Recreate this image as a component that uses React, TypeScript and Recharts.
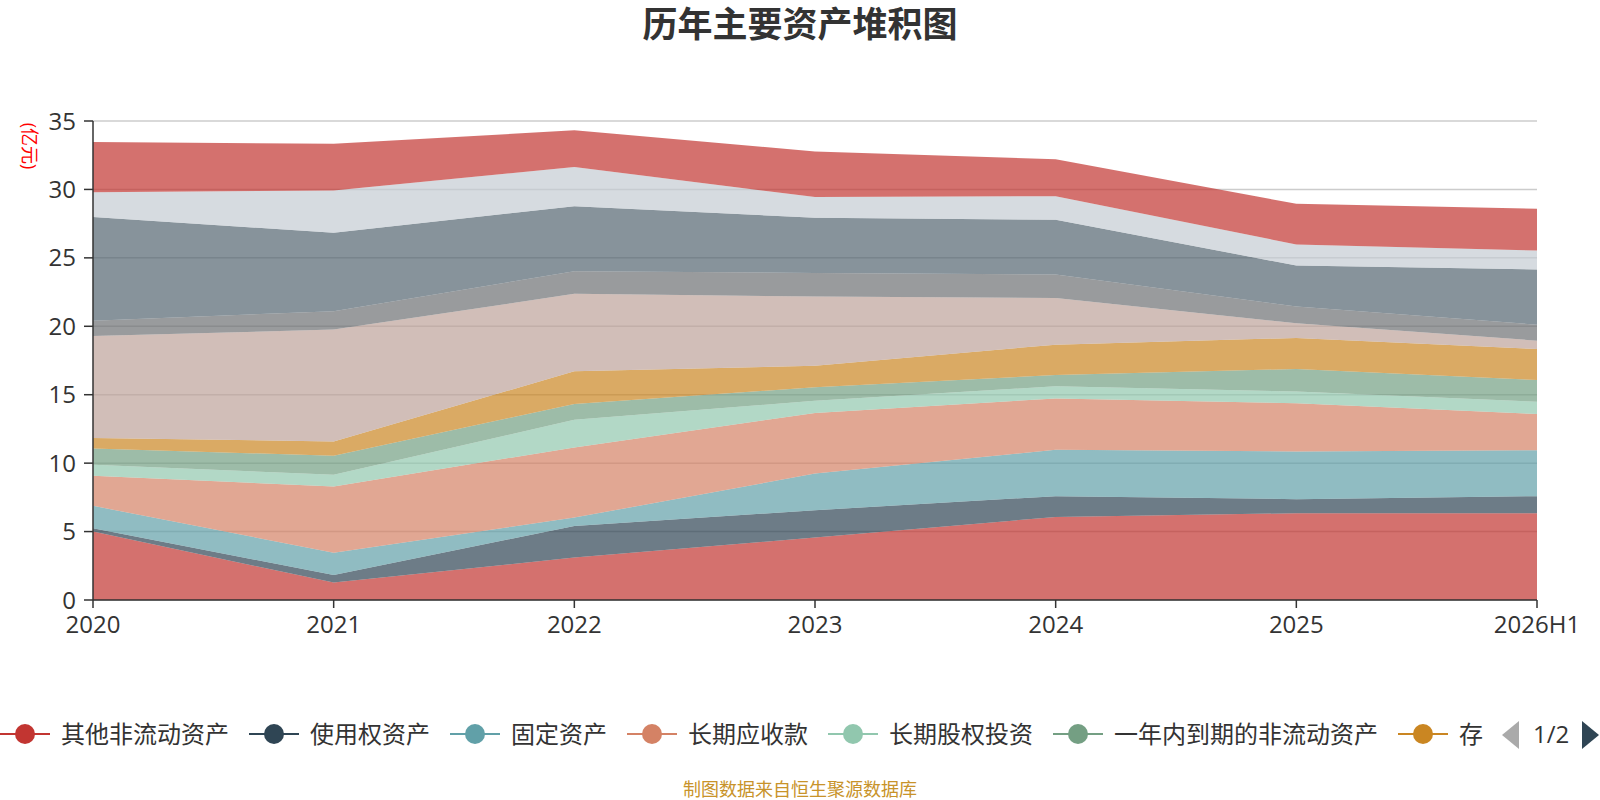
import { Area, AreaChart, CartesianGrid, XAxis, YAxis } from "recharts";

const years = ["2020", "2021", "2022", "2023", "2024", "2025", "2026H1"];

// 亿元, bottom of the stack first
const qitaFeiliudong = [5.0, 1.27, 3.1, 4.56, 6.07, 6.34, 6.34];
const shiyongquan = [0.24, 0.56, 2.31, 2.0, 1.52, 1.03, 1.25];
const gudingZichan = [1.64, 1.63, 0.61, 2.68, 3.39, 3.48, 3.36];
const changqiYingshou = [2.19, 4.83, 5.13, 4.42, 3.75, 3.52, 2.64];
const changqiGuquan = [0.81, 0.86, 2.02, 0.9, 0.88, 0.87, 0.9];
const yinianDaoqi = [1.19, 1.39, 1.15, 0.98, 0.83, 1.64, 1.58];
const cunhuo = [0.76, 1.05, 2.39, 1.58, 2.22, 2.27, 2.27];
const hetongZichan = [7.46, 8.17, 5.66, 5.05, 3.41, 1.07, 0.61];
const qitaYingshou = [1.12, 1.34, 1.65, 1.73, 1.71, 1.22, 1.17];
const yingshouZhangkuan = [7.57, 5.73, 4.76, 4.03, 4.0, 3.0, 4.03];
const yufuKuanxiang = [1.82, 3.1, 2.85, 1.51, 1.73, 1.54, 1.39];
const huobiZijin = [3.66, 3.41, 2.69, 3.34, 2.69, 2.97, 3.05];

const yTicks = [0, 5, 10, 15, 20, 25, 30, 35];

const series = [
  { key: "qita", name: "其他非流动资产", values: qitaFeiliudong, color: "#c23531" },
  { key: "shiyong", name: "使用权资产", values: shiyongquan, color: "#2f4554" },
  { key: "guding", name: "固定资产", values: gudingZichan, color: "#61a0a8" },
  { key: "yingshou", name: "长期应收款", values: changqiYingshou, color: "#d48265" },
  { key: "guquan", name: "长期股权投资", values: changqiGuquan, color: "#91c7ae" },
  { key: "daoqi", name: "一年内到期的非流动资产", values: yinianDaoqi, color: "#749f83" },
  { key: "cunhuo", name: "存货", values: cunhuo, color: "#ca8622" },
  { key: "hetong", name: "合同资产", values: hetongZichan, color: "#bda29a" },
  { key: "qitays", name: "其他应收款", values: qitaYingshou, color: "#6e7074" },
  { key: "zhangkuan", name: "应收账款", values: yingshouZhangkuan, color: "#546570" },
  { key: "yufu", name: "预付款项", values: yufuKuanxiang, color: "#c4ccd3" },
  { key: "huobi", name: "货币资金", values: huobiZijin, color: "#c23531" },
];

const data = years.map((year, i) => {
  const row: Record<string, string | number> = { year };
  series.forEach((s) => {
    row[s.key] = s.values[i];
  });
  return row;
});

const font = "'Open Sans', 'Noto Sans CJK SC', sans-serif";

// page 1 of the legend; the last entry is cut by the pager, only "存" shows
const legendItems = series.slice(0, 7).map((s, i) => ({
  ...s,
  label: i === 6 ? s.name.slice(0, 1) : s.name,
}));

function LegendIcon({ color }: { color: string }) {
  return (
    <svg width={50} height={24} style={{ display: "block", flexShrink: 0 }}>
      <line x1={0} y1={12} x2={50} y2={12} stroke={color} strokeWidth={2} />
      <circle cx={25} cy={12} r={10} fill={color} />
    </svg>
  );
}

export default function App() {
  return (
    <div
      style={{
        position: "absolute",
        left: 0,
        top: 0,
        width: 1600,
        height: 800,
        background: "#fff",
        fontFamily: font,
        overflow: "hidden",
      }}
    >
      <div
        style={{
          position: "absolute",
          top: 4,
          width: 1600,
          textAlign: "center",
          fontSize: 35,
          fontWeight: "bold",
          color: "#333",
          lineHeight: "40px",
        }}
      >
        历年主要资产堆积图
      </div>

      <div
        style={{
          position: "absolute",
          left: 30,
          top: 146,
          transform: "translate(-50%, -50%) rotate(90deg)",
          color: "#ff0000",
          fontSize: 18,
          whiteSpace: "nowrap",
          lineHeight: "20px",
        }}
      >
        (亿元)
      </div>

      <div style={{ position: "absolute", left: 0, top: 0 }}>
        <AreaChart
          width={1600}
          height={640}
          data={data}
          margin={{ top: 121, right: 63, left: 33, bottom: 10 }}
        >
          <CartesianGrid vertical={false} stroke="#ccc" strokeWidth={1.5} />
          <XAxis
            dataKey="year"
            height={30}
            tick={{ fill: "#333", fontSize: 24, fontFamily: font }}
            tickSize={8}
            tickMargin={8}
            axisLine={{ stroke: "#333", strokeWidth: 1.5 }}
            tickLine={{ stroke: "#333", strokeWidth: 1.5 }}
            interval={0}
          />
          <YAxis
            width={60}
            domain={[0, 35]}
            ticks={yTicks}
            allowDataOverflow
            tick={{ fill: "#333", fontSize: 24, fontFamily: font }}
            tickSize={9}
            tickMargin={8}
            axisLine={{ stroke: "#333", strokeWidth: 1.5 }}
            tickLine={{ stroke: "#333", strokeWidth: 1.5 }}
          />
          {series.map((s) => (
            <Area
              key={s.key}
              type="linear"
              dataKey={s.key}
              name={s.name}
              stackId="assets"
              stroke="none"
              fill={s.color}
              fillOpacity={0.7}
              dot={false}
              activeDot={false}
              isAnimationActive={false}
            />
          ))}
        </AreaChart>
      </div>

      <div
        style={{
          position: "absolute",
          left: 0,
          top: 716,
          width: 1494,
          height: 36,
          overflow: "hidden",
          display: "flex",
          alignItems: "center",
          whiteSpace: "nowrap",
        }}
      >
        {legendItems.map((s) => (
          <div
            key={s.key}
            style={{ display: "flex", alignItems: "center", marginRight: 20, flexShrink: 0 }}
          >
            <LegendIcon color={s.color} />
            <span style={{ marginLeft: 11, fontSize: 24, color: "#333", lineHeight: "32px" }}>
              {s.label}
            </span>
          </div>
        ))}
      </div>

      <svg style={{ position: "absolute", left: 1502, top: 721 }} width={18} height={28}>
        <polygon points="17,0 17,28 0,14" fill="#aaa" />
      </svg>
      <div
        style={{
          position: "absolute",
          left: 1533,
          top: 719,
          fontSize: 24,
          color: "#333",
          lineHeight: "30px",
        }}
      >
        1/2
      </div>
      <svg style={{ position: "absolute", left: 1582, top: 721 }} width={18} height={28}>
        <polygon points="0,0 0,28 17,14" fill="#2f4554" />
      </svg>

      <div
        style={{
          position: "absolute",
          top: 778,
          width: 1600,
          textAlign: "center",
          fontSize: 18,
          color: "#c8932a",
          lineHeight: "22px",
        }}
      >
        制图数据来自恒生聚源数据库
      </div>
    </div>
  );
}
